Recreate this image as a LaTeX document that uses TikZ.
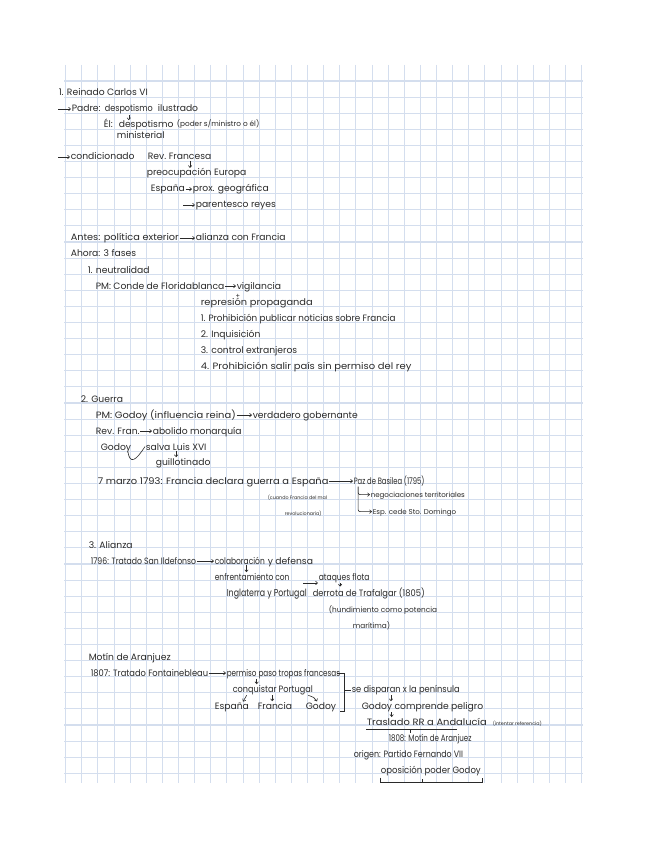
\documentclass[tikz,border=0pt]{standalone}
\usepackage{fontspec}
\setmainfont{Poppins}
\usetikzlibrary{arrows.meta}
\definecolor{gridc}{HTML}{D4DEEE}
\definecolor{ink}{HTML}{2A2A2A}
\newsavebox\fwbox
\newcommand\fw[2]{\sbox\fwbox{#2}\scalebox{\fpeval{(#1)/(\the\wd\fwbox)}}[1]{\usebox\fwbox}}
\tikzset{
  txt/.style={anchor=base west, inner sep=0pt, outer sep=0.6pt, text=ink, font=\fontsize{6.9}{7.5}\selectfont},
  sml/.style={txt, font=\fontsize{5.5}{6}\selectfont},
  xsml/.style={txt, font=\fontsize{3.6}{4}\selectfont},
  mid/.style={txt, font=\fontsize{5.3}{6}\selectfont},
  bigt/.style={txt, font=\fontsize{7.5}{8}\selectfont},
  arr/.style={draw=ink, line width=0.45pt, -{Straight Barb[length=1.5pt,width=2.6pt]}},
  ln/.style={draw=ink, line width=0.45pt},
  gridline/.style={draw=gridc, line width=0.8pt},
}
\begin{document}
\begin{tikzpicture}[x=0.75pt,y=-0.75pt]
\useasboundingbox (0,0) rectangle (648,848);
\fill[white] (0,0) rectangle (648,848);
% grid paper
\foreach \i in {0,...,32} \draw[gridline] ({65.7+16.125*\i},65) -- ({65.7+16.125*\i},783);
\foreach \j in {0,...,43} \draw[gridline] (64,{81+16.1*\j}) -- (583,{81+16.1*\j});

% ---------- 1. Reinado Carlos VI ----------
\node[txt] (h1) at (58,96) {1. Reinado Carlos VI};
\coordinate (a2) at (58,109);
\node[txt] (p2a) at (71,112) {Padre:};
\node[txt] (p2b) at (104,112) {\fw{36pt}{despotismo}};
\node[txt] (p2c) at (157,112) {ilustrado};
\node[txt] (p3a) at (103,128) {Él:};
\node[txt] (p3b) at (118,128) {despotismo};
\node[sml] (p3c) at (176,127) {(poder s/ministro o él)};
\node[txt] (p3d) at (116,139) {ministerial};
\coordinate (a5) at (58,157);
\node[txt] (p5a) at (70,160) {condicionado};
\node[txt] (p5b) at (147,160) {Rev.};
\node[txt] (p5c) at (168,160) {Francesa};
\node[txt] (p6) at (146,176) {preocupación Europa};
\node[txt] (p7a) at (150,192) {España};
\node[txt] (p7b) at (192,192) {prox. geográfica};
\coordinate (a8) at (183,205);
\node[txt] (p8) at (195,208) {parentesco reyes};

\draw[arr] (a2) -- (a2 -| p2a.west);
\draw[arr] (p2b.south) -- (p2b.south |- p3b.north);
\draw[arr] (a5) -- (a5 -| p5a.west);
\draw[arr] (p5c.south) -- (p5c.south |- p6.north);
\draw[arr] ([yshift=2.2pt]p7a.base east) -- ([yshift=2.2pt]p7b.base west);
\draw[arr] (a8) -- (a8 -| p8.west);

% ---------- política exterior ----------
\node[txt] (q1a) at (70,241) {\fw{81pt}{Antes: política exterior}};
\node[txt] (q1b) at (195,241) {alianza con Francia};
\node[txt] (q2) at (70,257) {Ahora: 3 fases};
\node[txt] (q3) at (87,273) {1. neutralidad};
\node[txt] (q4a) at (95,289) {PM: Conde de Floridablanca};
\node[txt] (q4b) at (236,289) {vigilancia};
\node[txt, anchor=center, font=\fontsize{5}{5}\selectfont] (plus) at (238,296) {+};
\node[txt] (q5) at (200,305) {\fw{84pt}{represión propaganda}};
\node[txt] (q6) at (200,321) {\fw{146pt}{1. Prohibición publicar noticias sobre Francia}};
\node[txt] (q7) at (200,337) {2. Inquisición};
\node[txt] (q8) at (200,353) {3. control extranjeros};
\node[txt] (q9) at (200,369) {\fw{158pt}{4. Prohibición salir país sin permiso del rey}};

\draw[arr] ([yshift=2.2pt]q1a.base east) -- ([yshift=2.2pt]q1b.base west);
\draw[arr] ([yshift=2.2pt]q4a.base east) -- ([yshift=2.2pt]q4b.base west);

% ---------- 2. Guerra ----------
\node[txt] (r1) at (80,402) {2. Guerra};
\node[txt] (r2a) at (95,418) {\fw{105pt}{PM: Godoy (influencia reina)}};
\node[txt] (r2b) at (252,418) {verdadero gobernante};
\node[txt] (r3a) at (95,434) {Rev. Fran.};
\node[txt] (r3b) at (152,434) {abolido monarquía};
\node[txt] (r4a) at (100,450) {Godoy};
\node[txt] (r4b) at (145,450) {salva Luis XVI};
\node[txt] (r5) at (155,465) {guillotinado};
\node[txt] (r6a) at (97,484) {\fw{173pt}{7 marzo 1793: Francia declara guerra a España}};
\node[txt] (r6b) at (353,484) {\fw{53pt}{Paz de Basilea (1795)}};
\node[xsml] (r7) at (267,499) {(cuando Francia del mal};
\node[xsml] (r8) at (284,515) {revolucionaria)};
\node[mid] (r9) at (370,497) {negociaciones territoriales};
\node[mid] (r10) at (372,514) {Esp. cede Sto. Domingo};

\draw[arr] ([yshift=2.2pt]r2a.base east) -- ([yshift=2.2pt]r2b.base west);
\draw[arr] ([yshift=2.2pt]r3a.base east) -- ([yshift=2.2pt]r3b.base west);
\draw[ln] ([xshift=-3pt,yshift=1pt]r4a.south east) .. controls +(2,13) and +(-9,14) .. (r4b.west);
\draw[arr] (r4b.south) -- (r4b.south |- r5.north);
\draw[arr] ([yshift=2.2pt]r6a.base east) -- ([yshift=2.2pt]r6b.base west);
\coordinate (bas) at ([xshift=3.8pt]r6b.south west);
\draw[arr, rounded corners=1.5pt] (bas) |- ([yshift=1.8pt]r9.base west);
\draw[arr, rounded corners=1.5pt] (bas) |- ([yshift=1.8pt]r10.base west);

% ---------- 3. Alianza ----------
\node[txt] (s1) at (88,548) {3. Alianza};
\node[txt] (s2a) at (90,564) {\fw{79pt}{1796: Tratado San Ildefonso}};
\node[txt] (s2b) at (214,564) {\fw{37.5pt}{colaboración}};
\node[txt] (s2c) at (267,564) {y defensa};
\node[txt] (s3) at (214,580) {\fw{56pt}{enfrentamiento con}};
\coordinate (s4c) at (303,583);
\node[txt] (s4) at (318,580) {\fw{38pt}{ataques flota}};
\node[bigt] (s5) at (226,596) {\fw{60pt}{Inglaterra y Portugal}};
\node[txt] (s6) at (312,596) {\fw{84pt}{derrota de Trafalgar (1805)}};
\node[sml] (s7) at (328,612) {(hundimiento como potencia};
\node[sml] (s8) at (352,628) {marítima)};

\draw[arr] ([yshift=2.2pt]s2a.base east) -- ([yshift=2.2pt]s2b.base west);
\coordinate (s2d) at ([xshift=5pt]s2b.south);
\draw[arr] (s2d) -- (s2d |- s3.north);
\draw[arr] (s4c) -- (s4c -| s4.west);
\coordinate (s4d) at ([xshift=-3pt]s4.south);
\draw[arr] (s4d) -- (s4d |- s6.north);

% ---------- Motín de Aranjuez ----------
\node[txt] (m1) at (88,660) {Motín de Aranjuez};
\node[txt] (m2a) at (90,676) {\fw{88pt}{1807: Tratado Fontainebleau}};
\node[txt] (m2b) at (226,676) {\fw{85pt}{permiso paso tropas francesas}};
\node[txt] (m3) at (232,692) {\fw{60pt}{conquistar Portugal}};
\node[txt] (m4a) at (214,709) {España};
\node[txt] (m4b) at (257,709) {Francia};
\node[txt] (m4c) at (305,709) {Godoy};
\coordinate (bt) at (344,673);
\coordinate (bb) at (344,711);
\coordinate (bm) at (344,690);
\node[txt] (m5) at (351,692) {\fw{81pt}{se disparan x la península}};
\node[txt] (m6) at (361,709) {Godoy comprende peligro};
\node[txt] (m7a) at (366,725) {\fw{90pt}{Traslado RR a Andalucía}};
\node[xsml] (m7b) at (492,725) {(intentar referencia)};
\node[txt] (m8) at (388,741) {\fw{62pt}{1808: Motín de Aranjuez}};
\node[txt] (m9) at (353,757) {\fw{82pt}{origen: Partido Fernando VII}};
\node[txt] (m10) at (380,773) {\fw{75pt}{oposición poder Godoy}};

\draw[arr] ([yshift=2.2pt]m2a.base east) -- ([yshift=2.2pt]m2b.base west);
\coordinate (m2p) at ([xshift=23pt]m2b.south west);
\draw[arr] (m2p) -- (m2p |- m3.north);
\draw[arr] ([xshift=11pt]m3.south west) -- ([xshift=-5pt]m4a.north east);
\coordinate (m3f) at ([xshift=-2pt]m4b.north);
\draw[arr] (m3f |- m3.south) -- (m3f);
\draw[arr] ([xshift=-4pt]m3.south east) .. controls +(5,2) and +(-2,-4) .. ([xshift=-3pt]m4c.north);
\draw[ln] (337,673) -- (bt) -- (bb) -- (340,711);
\draw[ln] (bm) -- (bm -| m5.west);
\coordinate (m5d) at ([xshift=30pt]m5.south west);
\draw[arr] (m5d) -- (m5d |- m6.north);
\coordinate (m6d) at ([xshift=23pt]m6.south west);
\draw[arr] (m6d) -- (m6d |- m7a.north);
\coordinate (ul1) at ([yshift=-3pt]m7a.base west);
\coordinate (ul2) at ([xshift=68pt]ul1);
\coordinate (ulm) at ([xshift=33pt]ul1);
\draw[ln] (ul1) -- (ul2);
\draw[ln] (ulm) -- (ulm |- m8.north);
\coordinate (ob1) at ([yshift=-7pt]m10.base west);
\coordinate (ob2) at ([xshift=77pt]ob1);
\coordinate (obm) at ([xshift=32pt]ob1);
\draw[ln] ([yshift=3.5pt]ob1) -- (ob1) -- (ob2) -- ([yshift=3.5pt]ob2);
\draw[ln] (obm) -- ([yshift=2.5pt]obm);
\end{tikzpicture}
\end{document}
